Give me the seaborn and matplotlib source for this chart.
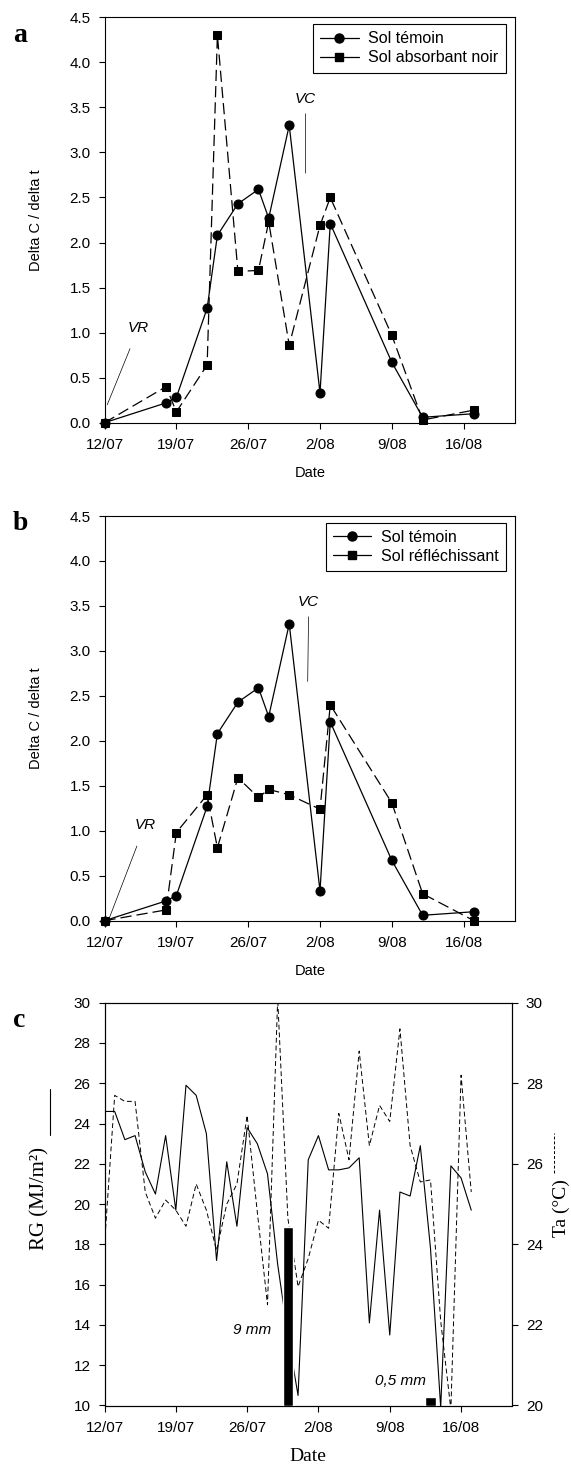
import matplotlib
matplotlib.use('Agg')
import matplotlib.pyplot as plt
import seaborn as sns
import pandas as pd
from matplotlib.lines import Line2D

# days counted from 12/07
days_ab = [0, 6, 7, 10, 11, 13, 15, 16, 18, 21, 22, 28, 31, 36]
temoin = [0.0, 0.22, 0.28, 1.27, 2.08, 2.43, 2.59, 2.27, 3.30, 0.33, 2.21, 0.67, 0.06, 0.10]
absorbant = [0.0, 0.40, 0.12, 0.64, 4.30, 1.68, 1.69, 2.23, 0.86, 2.19, 2.50, 0.97, 0.03, 0.14]
reflechissant = [0.0, 0.12, 0.98, 1.40, 0.81, 1.59, 1.37, 1.46, 1.40, 1.24, 2.40, 1.31, 0.30, 0.0]

days_c = list(range(37))
rg = [24.6, 24.6, 23.2, 23.4, 21.6, 20.5, 23.4, 19.7, 25.9, 25.4, 23.5, 17.2, 22.1, 18.9,
      23.8, 23.0, 21.5, 17.0, 13.5, 10.5, 22.2, 23.4, 21.7, 21.7, 21.8, 22.3, 14.1, 19.7,
      13.5, 20.6, 20.4, 22.9, 17.8, 9.9, 21.9, 21.3, 19.7]
ta = [24.0, 27.7, 27.55, 27.55, 25.3, 24.65, 25.1, 24.85, 24.45, 25.5, 24.85, 23.85, 25.0, 25.5,
      27.2, 24.8, 22.5, 30.1, 24.65, 22.95, 23.65, 24.6, 24.4, 27.25, 26.1, 28.8, 26.45, 27.45,
      27.05, 29.35, 26.45, 25.55, 25.6, 22.1, 19.9, 28.2, 25.3]

rain_days = [18, 32]
rain_top = [18.85, 10.4]
rain_labels = ['9 mm', '0,5 mm']

tick_days = [0, 7, 14, 21, 28, 35]
tick_labels = ['12/07', '19/07', '26/07', '2/08', '9/08', '16/08']

sns.set_style('ticks', {'axes.edgecolor': 'black', 'text.color': 'black',
                        'xtick.color': 'black', 'ytick.color': 'black',
                        'axes.labelcolor': 'black'})
plt.rcParams['font.family'] = ['Liberation Sans', 'DejaVu Sans']
plt.rcParams['axes.linewidth'] = 0.8

SERIF = ['Liberation Serif', 'DejaVu Serif']

fig = plt.figure(figsize=(5.71, 14.66), dpi=100)
W, H = 571.0, 1466.0


def rect(left, top, right, bottom):
    return [left / W, 1 - bottom / H, (right - left) / W, (bottom - top) / H]


def set_dates(ax):
    ax.set_xlim(0, 40)
    ax.set_xticks(tick_days)
    ax.set_xticklabels(tick_labels)
    ax.tick_params(axis='x', direction='out', length=4, width=0.8, pad=7, labelsize=11)
    ax.tick_params(axis='y', direction='out', length=4, width=0.8, pad=6, labelsize=11)


def panel(ax, other, other_name, vr_text, vr_end, vc_text, vc_end):
    df = pd.concat([
        pd.DataFrame({'Date': days_ab, 'Delta': temoin, 'Sol': 'Sol témoin'}),
        pd.DataFrame({'Date': days_ab, 'Delta': other, 'Sol': other_name}),
    ])
    sns.lineplot(data=df, x='Date', y='Delta', hue='Sol', style='Sol',
                 palette=['black', 'black'], markers=['o', 's'], dashes=['', (9, 4)],
                 lw=0.9, estimator=None, markeredgecolor='black', markersize=6.5,
                 legend=False, ax=ax)
    for ln in ax.lines:
        if ln.get_marker() == 's':
            ln.set_markersize(5.8)
        ln.set_clip_on(False)
    for s in ax.spines.values():
        s.set_visible(True)
    set_dates(ax)
    ax.set_ylim(0, 4.5)
    ax.set_yticks([0, 0.5, 1, 1.5, 2, 2.5, 3, 3.5, 4, 4.5])
    ax.set_yticklabels(['0.0', '0.5', '1.0', '1.5', '2.0', '2.5', '3.0', '3.5', '4.0', '4.5'])
    ax.set_ylabel('Delta C / delta t', fontsize=10.5)
    ax.set_xlabel('Date', fontsize=10.5)
    ax.xaxis.set_label_coords(0.5, -0.106)
    ax.yaxis.set_label_coords(-0.15, 0.5)

    handles = [Line2D([], [], color='black', lw=0.9, marker='o', ms=6.5),
               Line2D([], [], color='black', lw=0.9, marker='s', ms=5.8)]
    leg = ax.legend(handles, ['Sol témoin', other_name], loc='upper right',
                    bbox_to_anchor=(0.977, 0.983), borderaxespad=0, fontsize=11.5,
                    frameon=True, fancybox=False, edgecolor='black', framealpha=1,
                    handlelength=2.4, handletextpad=0.6, labelspacing=0.25, borderpad=0.45)
    leg.get_frame().set_linewidth(0.8)

    ax.annotate('VR', xy=vr_end, xytext=vr_text, ha='center', va='center',
                fontstyle='italic', fontsize=11,
                arrowprops=dict(arrowstyle='-', lw=0.5, color='black', shrinkA=8, shrinkB=0))
    ax.annotate('VC', xy=vc_end, xytext=vc_text, ha='center', va='center',
                fontstyle='italic', fontsize=11,
                arrowprops=dict(arrowstyle='-', lw=0.5, color='black', shrinkA=3, shrinkB=0))


ax1 = fig.add_axes(rect(104.5, 17.3, 515, 422.7))
panel(ax1, absorbant, 'Sol absorbant noir', (3.3, 1.05), (0.27, 0.2), (19.6, 3.59), (19.6, 2.77))

ax2 = fig.add_axes(rect(104.5, 516, 515, 920.7))
panel(ax2, reflechissant, 'Sol réfléchissant', (3.93, 1.06), (0.37, 0.0), (19.9, 3.54), (19.8, 2.66))

# panel c: radiation, temperature and rain
ax3 = fig.add_axes(rect(104.5, 1002.7, 512, 1405.5))
tw = ax3.twinx()
sns.lineplot(x=days_c, y=ta, color='black', lw=0.7, estimator=None, ax=tw)
tw.lines[0].set_dashes([5, 3])
sns.lineplot(x=days_c, y=rg, color='black', lw=0.8, estimator=None, ax=ax3)
ax3.bar(rain_days, [t - 10 for t in rain_top], bottom=10, width=1.0, color='black', zorder=3)
ax3.text(14.45, 13.75, rain_labels[0], ha='center', va='center', fontstyle='italic', fontsize=11)
ax3.text(29.1, 11.2, rain_labels[1], ha='center', va='center', fontstyle='italic', fontsize=11)

ax3.set_zorder(tw.get_zorder() + 1)
ax3.patch.set_visible(False)
for s in ax3.spines.values():
    s.set_visible(True)
set_dates(ax3)
ax3.set_ylim(10, 30)
ax3.set_yticks(list(range(10, 31, 2)))
tw.set_ylim(20, 30)
tw.set_yticks(list(range(20, 31, 2)))
tw.tick_params(axis='y', direction='out', length=4, width=0.8, pad=6, labelsize=11)

ax3.set_xlabel('Date', fontsize=14, family=SERIF)
ax3.xaxis.set_label_coords(0.5, -0.105)
ax3.set_ylabel('RG (MJ/m²)', fontsize=15, family=SERIF)
ax3.yaxis.set_label_coords(-0.136, 0.513)
ax3.plot([-0.133, -0.133], [0.672, 0.786], color='black', lw=0.8,
         transform=ax3.transAxes, clip_on=False)
tw.set_ylabel('Ta (°C)', fontsize=14, family=SERIF, rotation=90)
tw.yaxis.set_label_coords(1.10, 0.49)
tw.plot([1.103, 1.103], [0.577, 0.676], color='black', lw=0.7, dashes=[3, 2],
        transform=tw.transAxes, clip_on=False)

# panel letters
for lab, y in [('a', 41.7), ('b', 530), ('c', 1026.8)]:
    fig.text(13 / W, 1 - y / H, lab, family=SERIF, fontweight='bold', fontsize=20,
             va='baseline', ha='left')

fig.savefig('out.png', dpi=100)
